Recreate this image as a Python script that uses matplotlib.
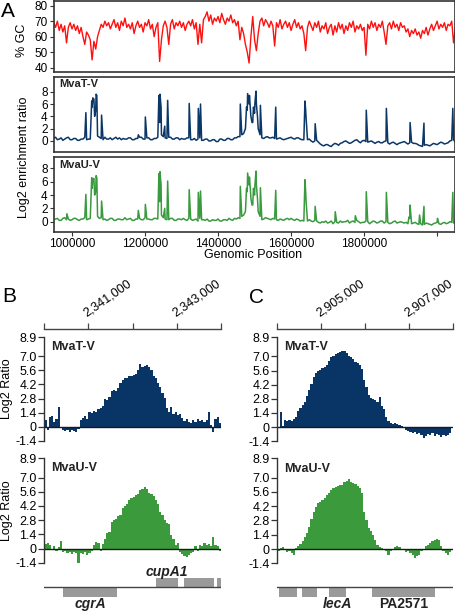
import numpy as np
import matplotlib
matplotlib.use('Agg')
import matplotlib.pyplot as plt
from matplotlib.patches import Rectangle

plt.rcParams['font.family'] = ['Liberation Sans', 'DejaVu Sans']

# ---------------- Panel A data ----------------
gc_start, gc_step = 950000, 5000
gc_values = [
    69, 66, 70, 64, 68, 63, 67, 56, 66, 69,
    65, 68, 64, 67, 62, 66, 60, 55, 63, 61,
    58, 45, 57, 52, 60, 64, 68, 66, 70, 67,
    69, 65, 68, 71, 66, 69, 64, 70, 67, 72,
    66, 68, 65, 69, 62, 67, 70, 66, 68, 63,
    69, 67, 71, 65, 68, 60, 66, 69, 44, 58,
    67, 70, 66, 55, 68, 71, 65, 69, 67, 70,
    66, 69, 64, 68, 70, 67, 71, 65, 69, 55,
    68, 56, 71, 73, 76, 70, 74, 68, 72, 70,
    73, 69, 75, 71, 68, 72, 70, 74, 69, 71,
    67, 70, 58, 66, 62, 55, 50, 43, 60, 73,
    58, 51, 62, 70, 72, 67, 71, 69, 66, 70,
    67, 54, 69, 66, 71, 65, 68, 70, 66, 69,
    64, 68, 71, 66, 69, 65, 67, 62, 51, 66,
    70, 67, 64, 69, 66, 70, 63, 67, 65, 69,
    62, 66, 68, 61, 67, 63, 69, 65, 68, 62,
    67, 64, 69, 66, 70, 63, 67, 65, 68, 64,
    66, 48, 68, 65, 70, 66, 69, 64, 68, 66,
    70, 63, 55, 67, 69, 65, 70, 66, 68, 64,
    69, 66, 67, 63, 65, 60, 64, 62, 65, 61,
    63, 59, 64, 62, 66, 61, 65, 68, 64, 67,
    70, 65, 68, 66, 69, 64, 68, 67, 70, 56,
    66]

base_start, base_step = 950000, 5000
mvat_base = [
    0.4, 0.6, 0.2, 0.3, 0.5, 0.1, 0.3, 0.5, 0.6, 0.2,
    0.2, 0.4, 0.4, 0.1, 0.1, 0.3, 0.3, 0.6, 0.2, 0.3,
    0.3, 5.5, 6.8, 5.0, 0.8, 0.6, 0.4, 0.2, 0.6, 0.3,
    0.3, 0.5, 0.2, 0.4, 0.6, 0.3, 0.5, 0.2, 0.4, 0.3,
    0.3, 0.5, 0.5, 0.2, 0.2, 0.4, 0.4, 0.6, 0.6, 0.3,
    0.3, 0.5, 0.5, 0.2, 0.2, 0.4, 0.4, 0.6, 3.0, 1.0,
    0.7, 0.5, 0.4, 0.6, 0.6, 0.3, 0.3, 0.5, 0.5, 0.2,
    0.4, 0.3, 0.3, 0.5, 0.5, 0.2, 0.2, 0.4, 0.1, 0.3,
    0.5, 0.1, 0.1, 0.3, 0.3, 0.0, 0.0, 0.2, 0.2, -0.1,
    -0.1, 0.3, 0.3, 0.1, 0.1, 0.4, 0.4, 0.2, 0.2, 0.5,
    0.5, 0.7, 0.7, 1.0, 1.2, 2.0, 5.0, 6.0, 4.0, 3.0,
    4.5, 6.0, 2.0, 1.0, 0.5, 0.4, 0.6, 0.7, 0.5, 0.5,
    0.6, 0.4, 0.3, 0.4, 0.5, 0.3, 0.2, 0.3, 0.4, 0.5,
    0.6, 0.4, 0.3, 0.5, 0.5, 0.3, 0.2, 0.2, 5.0, 0.2,
    0.3, 0.0, -0.2, 0.0, 0.1, -0.2, -0.5, -0.7, -0.8, -0.6,
    -0.6, -0.8, -0.9, -0.6, -0.4, -0.5, -0.7, -0.4, -0.3, -0.1,
    0.0, -0.2, -0.4, -0.3, -0.1, 0.1, 0.2, -0.1, -0.3, 0.0,
    0.1, -0.1, -0.2, -0.1, 0.0, -0.2, -0.4, -0.2, -0.1, -0.3,
    -0.3, -0.1, 0.0, -0.3, -0.5, -0.3, -0.2, -0.4, -0.6, -0.4,
    -0.3, -0.2, -0.1, -0.3, -0.5, -0.3, -0.2, -0.4, -0.4, -0.5,
    -0.7, -0.8, -0.9, -0.7, -0.6, -0.7, -0.8, -0.6, -0.4, -0.5,
    -0.6, -0.4, -0.2, -0.3, -0.5, -0.4, -0.3, 0.0, 0.1, 0.2,
    -0.2]
mvat_peak_pos = [1038000, 1054000, 1057000, 1062000, 1066000, 1068000, 1081000,
                 1181700, 1200900, 1238000, 1241000, 1244000, 1254000, 1262000,
                 1321000, 1346000, 1352000, 1461000,
                 1478000, 1481000, 1486000, 1489000, 1493000, 1497000, 1501000,
                 1504000, 1508000, 1516000,
                 1558000, 1638000, 1641000, 1666000, 1806000, 1861000, 1926000,
                 1964000, 2043000]
mvat_peak_val = [4.6, 6.5, 7.0, 4.0, 7.6, 7.4, 4.2,
                 1.0, 3.9, 7.4, 7.6, 5.5, 2.4, 6.6,
                 6.1, 5.3, 6.0, 6.0,
                 5.5, 7.7, 7.4, 5.0, 3.0, 5.5, 6.2,
                 8.1, 4.0, 5.8,
                 5.5, 6.5, 3.9, 2.8, 5.0, 5.3, 3.0,
                 2.9, 5.3]

mvau_base = [
    0.3, 0.4, 0.5, 0.2, 0.2, 0.5, 0.6, 0.3, 0.4, 0.2,
    0.3, 0.5, 0.5, 0.3, 0.2, 0.4, 0.4, 0.6, 0.3, 0.4,
    0.5, 5.0, 6.5, 4.5, 0.8, 0.5, 0.6, 0.3, 0.4, 0.2,
    0.3, 0.5, 0.5, 0.2, 0.2, 0.4, 0.4, 0.3, 0.3, 0.6,
    0.3, 0.4, 0.5, 0.2, 0.2, 0.4, 0.4, 0.5, 0.3, 0.3,
    0.6, 0.4, 0.4, 0.3, 0.3, 0.5, 0.5, 0.4, 3.0, 1.0,
    0.6, 0.4, 0.3, 0.3, 0.5, 0.5, 0.2, 0.2, 0.4, 0.4,
    0.3, 0.5, 0.3, 0.2, 0.5, 0.4, 0.2, 0.3, 0.4, 0.1,
    0.5, 0.3, 0.3, 0.2, 0.4, 0.1, 0.1, 0.3, 0.2, 0.2,
    0.4, 0.1, 0.1, 0.3, 0.3, 0.2, 0.5, 0.3, 0.2, 0.5,
    0.4, 0.6, 0.5, 0.8, 1.0, 1.5, 4.5, 5.5, 3.5, 2.5,
    4.0, 5.5, 1.5, 0.8, 0.3, 0.4, 0.6, 0.5, 0.4, 0.3,
    0.5, 0.4, 0.3, 0.2, 0.4, 0.3, 0.2, 0.4, 0.5, 0.3,
    0.5, 0.3, 0.2, 0.4, 0.3, 0.1, 0.2, 0.1, 4.5, 0.1,
    0.3, 0.1, 0.0, 0.2, 0.1, -0.1, -0.2, 0.0, -0.1, 0.1,
    -0.2, -0.1, 0.1, -0.3, 0.0, -0.1, -0.2, 0.1, -0.1, 0.0,
    0.0, 0.2, -0.2, 0.0, 0.1, -0.1, 0.2, 0.0, -0.2, -0.1,
    -0.1, 0.1, 0.0, -0.3, -0.1, 0.1, 0.0, -0.2, -0.1, 0.1,
    0.1, -0.2, 0.0, -0.1, -0.3, -0.2, 0.0, 0.1, -0.2, -0.1,
    0.0, -0.1, -0.2, -0.1, -0.3, 0.5, -0.3, -0.2, -0.1, -0.3,
    -0.4, -0.3, -0.5, -0.4, -0.2, -0.3, -0.4, -0.5, -0.3, -0.2,
    -0.1, -0.3, -0.4, -0.2, -0.1, -0.3, -0.2, 0.0, -0.1, -0.2,
    -0.1]
mvau_peak_pos = [986000, 1038000, 1054000, 1057000, 1062000, 1066000, 1068000, 1081000,
                 1181700, 1200900, 1238000, 1241000, 1244000, 1254000, 1262000,
                 1321000, 1346000, 1352000, 1461000,
                 1478000, 1481000, 1486000, 1489000, 1493000, 1497000, 1501000,
                 1504000, 1508000, 1516000,
                 1558000, 1638000, 1641000, 1666000, 1721000, 1776000, 1806000,
                 1861000, 1923000, 1926000, 1952000, 1964000, 2001000, 2043000]
mvau_peak_val = [1.2, 4.1, 6.6, 6.4, 4.0, 6.9, 6.6, 3.1,
                 1.7, 2.6, 7.2, 7.5, 5.5, 2.0, 6.1,
                 4.8, 4.4, 4.6, 5.3,
                 5.0, 7.3, 6.7, 4.5, 2.5, 5.0, 5.5,
                 7.6, 3.5, 5.1,
                 4.7, 6.3, 3.2, 2.3, 1.5, 0.9, 4.5,
                 4.4, 0.7, 2.5, 1.0, 2.3, 0.5, 4.4]

a_xticks = [1000000, 1200000, 1400000, 1600000, 1800000, 2000000]
a_xticklabels = ['1000000', '1200000', '1400000', '1600000', '1800000', '']

# ---------------- Panels B / C data ----------------
bin_bp = 50
b_start, b_end = 2340000, 2344000
c_start, c_end = 2904000, 2908000
b_mvat = [0.7, -0.3, 1.0, 1.1, 0.5, 0.8, 2.0, 0.0, -0.3, -0.4,
          -0.3, -0.5, -0.3, -0.4, -0.5, -0.2, 0.7, 0.9, 1.1, 0.8,
          1.5, 1.4, 1.6, 1.5, 1.8, 1.9, 2.1, 2.8, 2.7, 3.0,
          3.6, 3.7, 3.6, 3.8, 4.3, 4.6, 4.8, 4.8, 5.0, 5.0,
          5.1, 5.2, 5.6, 6.2, 5.9, 6.0, 6.1, 5.9, 5.6, 5.0,
          4.8, 4.3, 3.9, 3.4, 2.9, 1.9, 1.5, 2.0, 1.3, 1.5,
          1.2, 1.3, 0.9, 0.6, 0.8, 0.5, 0.4, 0.7, 0.5, 0.8,
          0.6, 0.7, 0.5, 0.7, 1.5, 0.2, -0.5, 0.8, 1.0, 0.4]
b_mvau = [0.4, 0.5, 0.3, -0.1, 0.2, -0.2, 0.1, 0.7, -0.3, -0.2,
          -0.4, -0.3, -0.5, -0.3, -0.4, -1.6, -0.4, -0.5, -0.3, -0.6,
          -0.4, -0.2, 0.3, 0.6, 0.5, -0.2, 0.4, 0.9, 1.5, 1.6,
          2.6, 2.8, 2.9, 3.2, 3.3, 4.0, 4.2, 4.4, 4.8, 5.0,
          5.1, 5.3, 5.4, 5.8, 5.9, 6.1, 5.9, 5.5, 5.4, 5.2,
          4.8, 4.4, 3.6, 3.3, 2.8, 2.5, 2.4, 1.3, 0.9, 0.3,
          0.5, -0.3, -0.5, -0.7, -0.8, -0.6, -0.4, -0.3, 0.2, -0.2,
          0.3, 0.2, 0.5, 0.3, 0.4, 0.2, 1.1, 0.3, 0.2, -0.2]
c_mvat = [-0.1, 1.5, 0.1, 0.7, 0.6, 0.7, 0.6, 0.8, 1.0, 1.6,
          1.9, 2.2, 2.5, 3.1, 3.7, 4.3, 5.0, 5.4, 5.6, 5.7,
          5.9, 6.0, 6.2, 6.6, 6.9, 7.0, 7.2, 7.3, 7.4, 7.5,
          7.5, 7.3, 7.0, 6.9, 6.7, 6.5, 6.4, 6.2, 5.8, 4.7,
          4.0, 3.2, 2.9, 2.8, 2.7, 2.5, 3.0, 2.1, 1.8, 1.0,
          0.6, 0.4, 0.3, 0.4, 0.3, 0.2, 0.1, 0.0, -0.3, -0.4,
          -0.5, -0.6, -0.5, -0.7, -0.6, -0.8, -1.1, -0.9, -0.7, -0.8,
          -0.6, -0.9, -0.7, -0.8, -1.0, -0.8, -0.9, -0.8, -0.6]
c_mvau = [-0.2, 0.1, 0.2, -0.1, -0.3, -0.2, -0.4, -0.6, 0.1, 0.3,
          0.5, 0.8, 1.2, 1.6, 2.2, 2.9, 3.6, 4.1, 4.5, 4.6,
          4.8, 5.0, 5.3, 5.5, 5.8, 6.0, 6.1, 6.2, 6.3, 6.3,
          6.6, 6.7, 6.9, 6.6, 6.5, 6.4, 6.2, 6.0, 5.5, 3.6,
          2.8, 2.1, 1.8, 1.4, 0.9, 0.4, 0.2, 0.1, -0.1, -0.2,
          -0.6, -0.2, 0.0, 0.2, 0.3, 0.2, 0.0, -0.1, -0.3, -0.2,
          -0.4, -0.6, -0.9, -0.7, -0.6, -0.2, -0.1, 0.3, 0.4, 0.6,
          0.8, 0.9, 1.0, 0.9, 0.3, -0.2, -0.4, -0.6, -0.3]

bc_yticks = [-1.4, 0, 1.4, 2.8, 4.2, 5.6, 7.0, 8.9]
bc_yticklabels = ['-1.4', '0', '1.4', '2.8', '4.2', '5.6', '7.0', '8.9']
b_ruler_labels = ['', '2,341,000', '', '2,343,000', '']
c_ruler_labels = ['', '2,905,000', '', '2,907,000', '']

# genes: start, end, strand, label, italic
b_gene_start = [2340430, 2342530, 2343160, 2343910]
b_gene_end = [2341650, 2343030, 2343840, 2344000]
b_gene_strand = [-1, 1, 1, 1]
b_gene_label = ['cgrA', 'cupA1', '', '']
b_gene_italic = [True, True, False, False]
c_gene_start = [2904045, 2904555, 2905182, 2906160]
c_gene_end = [2904441, 2904895, 2905555, 2907585]
c_gene_strand = [-1, -1, -1, -1]
c_gene_label = ['', '', 'lecA', 'PA2571']
c_gene_italic = [False, False, True, False]

# ---------------- drawing ----------------
W, H = 456, 612
fig = plt.figure(figsize=(W / 100, H / 100), dpi=100)

def px_axes(x0, y0, x1, y1):
    return fig.add_axes([x0 / W, 1 - y1 / H, (x1 - x0) / W, (y1 - y0) / H])

def ftext(x, y, s, **kw):
    return fig.text(x / W, 1 - y / H, s, **kw)

RED = '#ff1010'
NAVY = '#0b3768'
GREEN = '#3a9a40'
FRAME = '#333333'
xlimA = (950700, 2049000)

def frame(ax):
    for sp in ax.spines.values():
        sp.set_color(FRAME)
        sp.set_linewidth(1.2)
    ax.tick_params(axis='both', length=3, width=0.8, pad=1.5, labelsize=8.5,
                   color=FRAME)

# GC panel
axGC = px_axes(54, 0.7, 455, 71.7)
gc_pos = gc_start + gc_step * np.arange(len(gc_values))
axGC.plot(gc_pos, gc_values, color=RED, lw=1.0)
axGC.set_xlim(xlimA)
axGC.set_ylim(37.4, 83.2)
axGC.set_yticks([40, 50, 60, 70, 80])
axGC.set_xticks([])
frame(axGC)

def merged(base_vals, peak_pos, peak_vals):
    bp = base_start + base_step * np.arange(len(base_vals))
    pos = np.concatenate([bp, np.array(peak_pos)])
    vals = np.concatenate([np.array(base_vals), np.array(peak_vals)])
    o = np.argsort(pos, kind='stable')
    return pos[o], vals[o]

axT = px_axes(54, 77, 455, 152)
p, v = merged(mvat_base, mvat_peak_pos, mvat_peak_val)
axT.plot(p, v, color=NAVY, lw=1.1)
axT.set_xlim(xlimA)
axT.set_ylim(-1.8, 10.4)
axT.set_yticks([0, 2, 4, 6, 8])
axT.set_xticks([])
frame(axT)
axT.text(0.0125, 0.87, 'MvaT-V', transform=axT.transAxes, fontsize=8,
         fontweight='bold', color='#222222', va='baseline')

axU = px_axes(54, 156.7, 455, 231.7)
p, v = merged(mvau_base, mvau_peak_pos, mvau_peak_val)
axU.plot(p, v, color=GREEN, lw=1.1)
axU.set_xlim(xlimA)
axU.set_ylim(-1.5, 9.75)
axU.set_yticks([0, 2, 4, 6, 8])
axU.set_xticks(a_xticks)
axU.set_xticklabels(a_xticklabels)
frame(axU)
axU.text(0.0125, 0.85, 'MvaU-V', transform=axU.transAxes, fontsize=8,
         fontweight='bold', color='#222222', va='baseline')

ftext(1, 17, 'A', fontsize=15, va='baseline', ha='left')
ftext(22.5, 40.5, '% GC', rotation=90, fontsize=9, ha='center', va='center')
ftext(24, 157, 'Log2 enrichment ratio', rotation=90, fontsize=9,
      ha='center', va='center')
ftext(253, 258, 'Genomic Position', fontsize=9, ha='center', va='baseline')

# ---------------- Panels B and C ----------------
def ruler(x0, x1, start, end, labels):
    ax = px_axes(x0, 329, x1, 335)
    ax.set_xlim(start, end)
    ax.set_ylim(0, 1)
    ax.patch.set_visible(False)
    for k in ['left', 'right', 'bottom']:
        ax.spines[k].set_visible(False)
    ax.spines['top'].set_color('#444444')
    ax.spines['top'].set_linewidth(1.0)
    ax.xaxis.tick_top()
    ticks = np.arange(start, end + 1, 1000)
    ax.set_xticks(ticks)
    ax.set_xticklabels(labels, rotation=35, ha='left', va='bottom',
                       rotation_mode='anchor', fontsize=9)
    ax.tick_params(axis='x', length=4, width=0.9, color='#444444', pad=3)
    ax.set_yticks([])

def track(x0, y0, x1, y1, start, end, vals, color, name, ylabel):
    ax = px_axes(x0, y0, x1, y1)
    edges = start + bin_bp * np.arange(len(vals) + 1)
    ax.stairs(vals, edges, baseline=0, fill=True, color=color, lw=0)
    ax.axhline(0, color='#1a1a1a', lw=1.0)
    ax.set_xlim(start, end)
    ax.set_ylim(-1.4, 8.9)
    for k in ['top', 'right', 'bottom']:
        ax.spines[k].set_visible(False)
    ax.spines['left'].set_color('#333333')
    ax.spines['left'].set_linewidth(1.0)
    ax.set_xticks([])
    ax.set_yticks(bc_yticks)
    ax.set_yticklabels(bc_yticklabels)
    ax.tick_params(axis='y', length=4, width=0.9, pad=1.5, labelsize=9,
                   color='#333333')
    ax.patch.set_visible(False)
    ax.text(0.04, 0.96, name, transform=ax.transAxes,
            fontsize=9, fontweight='bold', va='top', color='#222222')
    if ylabel:
        ax.set_ylabel('Log2 Ratio', fontsize=9, labelpad=2)
    return ax

def genes(x0, x1, start, end, gs, ge, strand, labels, italic):
    ax = px_axes(x0, 565, x1, 612)
    ax.set_xlim(start, end)
    ax.set_ylim(-2.63, 2.32)
    ax.axis('off')
    ax.axhline(0, color='#444444', lw=1.0)
    for s, e, st, lab, it in zip(gs, ge, strand, labels, italic):
        y0 = 0 if st > 0 else -1.05
        ax.add_patch(Rectangle((s, y0), e - s, 0.95 if st > 0 else 1.05,
                               facecolor='#9a9a9a', edgecolor='none'))
        if lab:
            ty = 1.6 if st > 0 else -1.8
            ax.text((s + e) / 2, ty, lab, ha='center', va='center',
                    fontsize=10, fontweight='bold',
                    fontstyle='italic' if it else 'normal', color='#222222')

# B
ruler(44.3, 221, b_start, b_end, b_ruler_labels)
track(44.3, 337.3, 221, 440.7, b_start, b_end, b_mvat, '#083466', 'MvaT-V', True)
track(44.3, 458.3, 221, 562.7, b_start, b_end, b_mvau, '#3b9a3b', 'MvaU-V', True)
genes(44.3, 221, b_start, b_end, b_gene_start, b_gene_end, b_gene_strand,
      b_gene_label, b_gene_italic)
ftext(2, 302, 'B', fontsize=15, va='baseline', ha='left')

# C
ruler(277.3, 453.3, c_start, c_end, c_ruler_labels)
track(277.3, 337.3, 453.3, 441.2, c_start, c_end, c_mvat, '#083466', 'MvaT-V', False)
track(277.3, 458.3, 453.3, 563.3, c_start, c_end, c_mvau, '#3b9a3b', 'MvaU-V', False)
genes(277.3, 453.3, c_start, c_end, c_gene_start, c_gene_end, c_gene_strand,
      c_gene_label, c_gene_italic)
ftext(249, 303, 'C', fontsize=15, va='baseline', ha='left')

fig.savefig('out.png', dpi=100)
